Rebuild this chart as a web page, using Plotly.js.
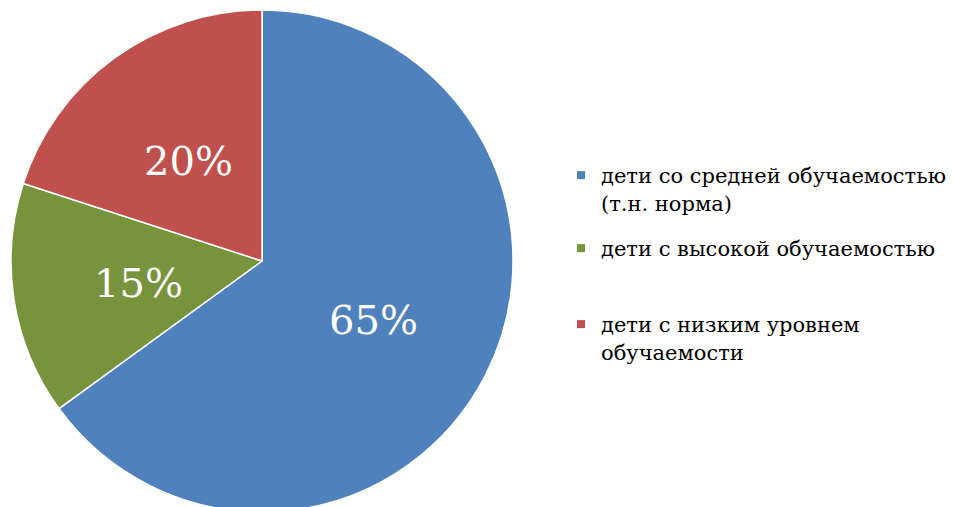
<!DOCTYPE html>
<html><head><meta charset="utf-8">
<script src="https://cdn.plot.ly/plotly-3.0.1.min.js"></script>
<style>html,body{margin:0;padding:0;overflow:hidden;background:#fff}</style>
</head><body><div id="chart"></div>
<script>
const categories = ["дети со средней обучаемостью<br>(т.н. норма)", "дети с высокой обучаемостью", "дети с низким уровнем<br>обучаемости"];
const values = [65, 15, 20];
const colors = ["#4F81BD", "#77933C", "#C0504D"];

const W = 953, H = 520;
const cx = 262, cy = 261, R = 251;
const SERIF = "DejaVu Serif";

const pie = {
  type: "pie",
  labels: categories,
  values: values,
  sort: false,
  direction: "clockwise",
  rotation: 0,
  marker: {colors: colors, line: {color: "#ffffff", width: 1.5}},
  textinfo: "none",
  hoverinfo: "label+percent",
  showlegend: false,
  domain: {x: [(cx - R) / W, (cx + R) / W], y: [1 - (cy + R) / H, 1 - (cy - R) / H]}
};

// percentage labels at half radius on each slice's mid-angle (computed from the data)
const total = values.reduce((a, b) => a + b, 0);
let cum = 0;
const annotations = values.map((v, i) => {
  const mid = (cum + v / 2) / total;
  cum += v;
  const ang = (90 - 360 * mid) * Math.PI / 180;
  const px = cx + 0.5 * R * Math.cos(ang);
  const py = cy - 0.5 * R * Math.sin(ang) + 2;
  return {
    xref: "paper", yref: "paper", x: px / W, y: 1 - py / H,
    xanchor: "center", yanchor: "middle", showarrow: false,
    text: Math.round(v / total * 100) + "%",
    font: {family: SERIF, size: 40, color: "#ffffff"}
  };
});

// one legend per category so the vertical spacing follows the reference
const legendTops = [155, 228, 304];
const legendNames = ["legend", "legend2", "legend3"];
const legendTraces = categories.map((c, i) => ({
  type: "scatter", mode: "markers", x: [null], y: [null],
  name: c, legend: legendNames[i], showlegend: true,
  marker: {symbol: "square", size: 8, color: colors[i]},
  hoverinfo: "skip"
}));

const layout = {
  width: W, height: H,
  margin: {l: 0, r: 0, t: 0, b: 0},
  paper_bgcolor: "#ffffff", plot_bgcolor: "rgba(0,0,0,0)",
  xaxis: {visible: false}, yaxis: {visible: false},
  annotations: annotations,
  showlegend: true
};
legendNames.forEach((ln, i) => {
  layout[ln] = {
    x: 561 / W, xanchor: "left", y: 1 - legendTops[i] / H, yanchor: "top",
    font: {family: SERIF, size: 21, color: "#000000"},
    valign: "top", bgcolor: "rgba(0,0,0,0)", itemclick: false
  };
});

Plotly.newPlot("chart", [pie].concat(legendTraces), layout, {displayModeBar: false, staticPlot: true});
</script></body></html>
